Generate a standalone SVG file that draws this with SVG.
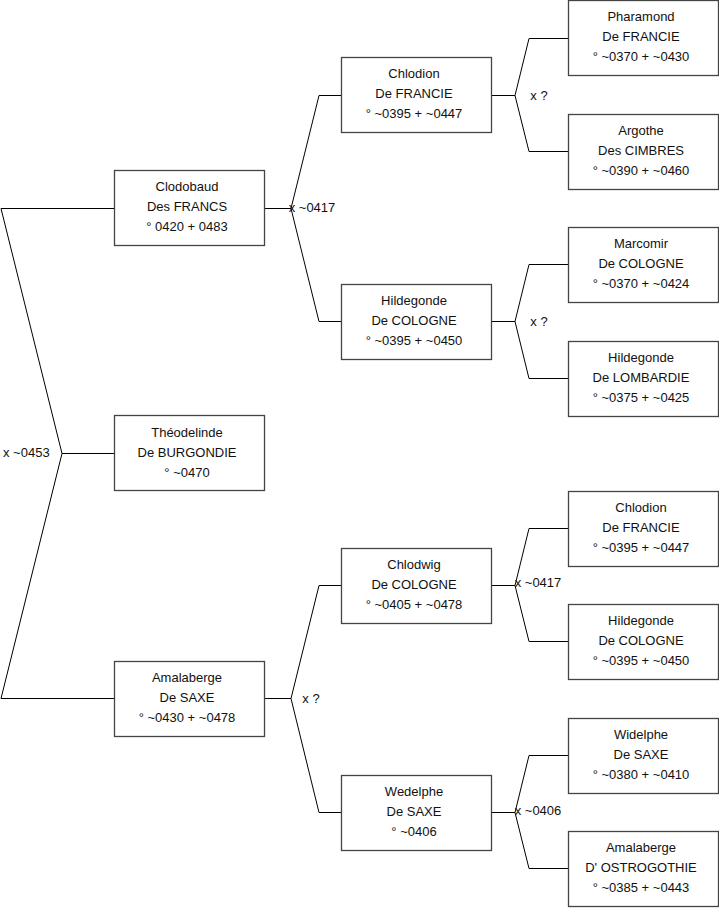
<svg xmlns="http://www.w3.org/2000/svg" width="719" height="908" viewBox="0 0 719 908">
<style>
.box{fill:#fff;stroke:#444;stroke-width:1.3}
.ln{fill:none;stroke:#000;stroke-width:1}
text{font-family:"Liberation Sans",Arial,sans-serif;font-size:13px;fill:#111}
.c{text-anchor:middle}
</style>
<rect width="719" height="908" fill="#fff"/>
<g id="connectors">
<polyline class="ln" points="114,208.5 1,208.5 62,453.5 1,698.5 114,698.5"/>
<line class="ln" x1="62" y1="453.5" x2="114" y2="453.5"/>
<polyline class="ln" points="341,95.5 319,95.5 291,208.5 319,321.5 341,321.5"/>
<line class="ln" x1="265" y1="208.5" x2="291" y2="208.5"/>
<polyline class="ln" points="341,585.5 319,585.5 291,698.5 319,812.5 341,812.5"/>
<line class="ln" x1="265" y1="698.5" x2="291" y2="698.5"/>
<polyline class="ln" points="568,38.5 529,38.5 515,95.5 529,151.5 568,151.5"/>
<line class="ln" x1="491" y1="95.5" x2="515" y2="95.5"/>
<polyline class="ln" points="568,264.5 529,264.5 515,321.5 529,378.5 568,378.5"/>
<line class="ln" x1="491" y1="321.5" x2="515" y2="321.5"/>
<polyline class="ln" points="568,528.5 529,528.5 515,585.5 529,641.5 568,641.5"/>
<line class="ln" x1="491" y1="585.5" x2="515" y2="585.5"/>
<polyline class="ln" points="568,755.5 529,755.5 515,812.5 529,868.5 568,868.5"/>
<line class="ln" x1="491" y1="812.5" x2="515" y2="812.5"/>
<text x="3" y="457">x ~0453</text>
<text class="c" x="312" y="212">x ~0417</text>
<text class="c" x="311" y="703">x ?</text>
<text class="c" x="539" y="100">x ?</text>
<text class="c" x="539" y="326">x ?</text>
<text class="c" x="538" y="587">x ~0417</text>
<text class="c" x="538" y="815">x ~0406</text>
</g>
<g id="clodobaud"><rect class="box" x="114.5" y="170.5" width="150" height="75"/><text class="c" x="187" y="191">Clodobaud</text><text class="c" x="187" y="211">Des FRANCS</text><text class="c" x="187" y="231">° 0420 + 0483</text></g>
<g id="theodelinde"><rect class="box" x="114.5" y="415.5" width="150" height="75"/><text class="c" x="187" y="437">Théodelinde</text><text class="c" x="187" y="457">De BURGONDIE</text><text class="c" x="187" y="477">° ~0470</text></g>
<g id="amalaberge1"><rect class="box" x="114.5" y="661.5" width="150" height="75"/><text class="c" x="187" y="682">Amalaberge</text><text class="c" x="187" y="702">De SAXE</text><text class="c" x="187" y="722">° ~0430 + ~0478</text></g>
<g id="chlodion1"><rect class="box" x="341.5" y="57.5" width="150" height="75"/><text class="c" x="414" y="78">Chlodion</text><text class="c" x="414" y="98">De FRANCIE</text><text class="c" x="414" y="118">° ~0395 + ~0447</text></g>
<g id="hildegonde1"><rect class="box" x="341.5" y="284.5" width="150" height="75"/><text class="c" x="414" y="305">Hildegonde</text><text class="c" x="414" y="325">De COLOGNE</text><text class="c" x="414" y="345">° ~0395 + ~0450</text></g>
<g id="chlodwig"><rect class="box" x="341.5" y="548.5" width="150" height="75"/><text class="c" x="414" y="569">Chlodwig</text><text class="c" x="414" y="589">De COLOGNE</text><text class="c" x="414" y="609">° ~0405 + ~0478</text></g>
<g id="wedelphe"><rect class="box" x="341.5" y="775.5" width="150" height="75"/><text class="c" x="414" y="796">Wedelphe</text><text class="c" x="414" y="816">De SAXE</text><text class="c" x="414" y="836">° ~0406</text></g>
<g id="pharamond"><rect class="box" x="568.5" y="0.5" width="150" height="75"/><text class="c" x="641" y="21">Pharamond</text><text class="c" x="641" y="41">De FRANCIE</text><text class="c" x="641" y="61">° ~0370 + ~0430</text></g>
<g id="argothe"><rect class="box" x="568.5" y="114.5" width="150" height="75"/><text class="c" x="641" y="135">Argothe</text><text class="c" x="641" y="155">Des CIMBRES</text><text class="c" x="641" y="175">° ~0390 + ~0460</text></g>
<g id="marcomir"><rect class="box" x="568.5" y="227.5" width="150" height="75"/><text class="c" x="641" y="248">Marcomir</text><text class="c" x="641" y="268">De COLOGNE</text><text class="c" x="641" y="288">° ~0370 + ~0424</text></g>
<g id="hildegonde2"><rect class="box" x="568.5" y="341.5" width="150" height="75"/><text class="c" x="641" y="362">Hildegonde</text><text class="c" x="641" y="382">De LOMBARDIE</text><text class="c" x="641" y="402">° ~0375 + ~0425</text></g>
<g id="chlodion2"><rect class="box" x="568.5" y="491.5" width="150" height="75"/><text class="c" x="641" y="512">Chlodion</text><text class="c" x="641" y="532">De FRANCIE</text><text class="c" x="641" y="552">° ~0395 + ~0447</text></g>
<g id="hildegonde3"><rect class="box" x="568.5" y="604.5" width="150" height="75"/><text class="c" x="641" y="625">Hildegonde</text><text class="c" x="641" y="645">De COLOGNE</text><text class="c" x="641" y="665">° ~0395 + ~0450</text></g>
<g id="widelphe"><rect class="box" x="568.5" y="718.5" width="150" height="75"/><text class="c" x="641" y="739">Widelphe</text><text class="c" x="641" y="759">De SAXE</text><text class="c" x="641" y="779">° ~0380 + ~0410</text></g>
<g id="amalaberge2"><rect class="box" x="568.5" y="831.5" width="150" height="75"/><text class="c" x="641" y="852">Amalaberge</text><text class="c" x="641" y="872">D' OSTROGOTHIE</text><text class="c" x="641" y="892">° ~0385 + ~0443</text></g>
</svg>
